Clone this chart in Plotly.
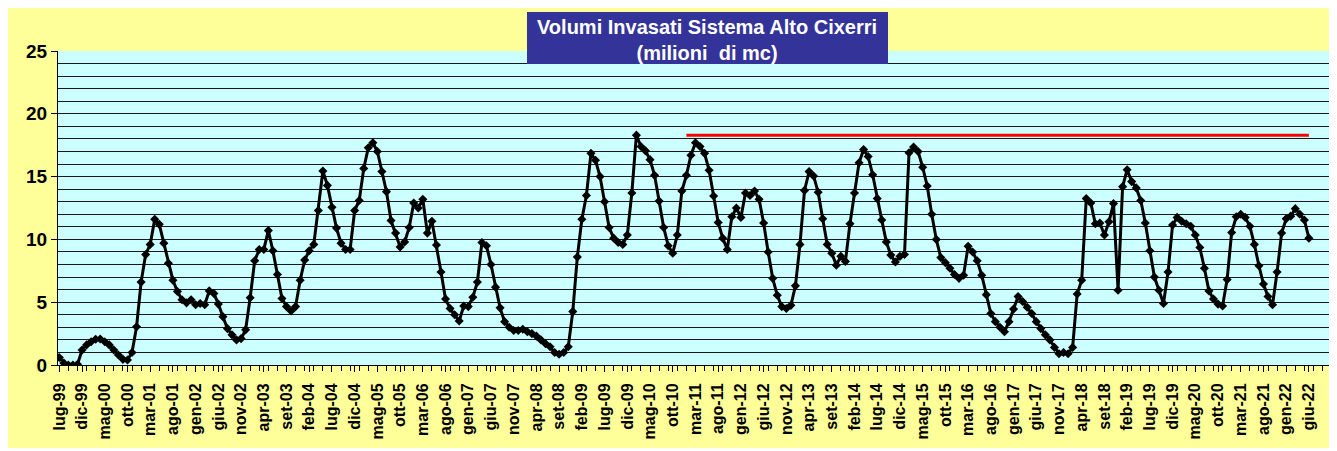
import plotly.graph_objects as go

# Monthly stored volume (million m3), from lug-99 (index 0) to giu-22 (index 275)
volumi = [
    0.6, 0.15, 0.0, 0.0, 0.05, 1.2, 1.6, 1.85, 2.05, 2.07,
    1.85, 1.6, 1.2, 0.8, 0.45, 0.4, 1.0, 3.05, 6.6, 8.8,
    9.6, 11.6, 11.2, 9.7, 8.1, 6.75, 5.85, 5.2, 4.95, 5.2,
    4.8, 4.9, 4.8, 5.9, 5.7, 4.85, 3.85, 2.9, 2.4, 2.0,
    2.1, 2.8, 5.35, 8.3, 9.2, 9.2, 10.7, 9.1, 7.2, 5.3,
    4.65, 4.3, 4.65, 6.75, 8.35, 9.1, 9.6, 12.3, 15.45, 14.3,
    12.55, 10.9, 9.7, 9.2, 9.2, 12.3, 13.1, 15.65, 17.3, 17.7,
    17.0, 15.4, 13.8, 11.5, 10.5, 9.4, 9.8, 10.95, 12.9, 12.5,
    13.2, 10.5, 11.45, 9.55, 7.4, 5.25, 4.5, 4.0, 3.5, 4.7,
    4.65, 5.4, 6.6, 9.75, 9.5, 8.0, 6.2, 4.55, 3.45, 3.0,
    2.75, 2.75, 2.85, 2.65, 2.5, 2.3, 2.0, 1.7, 1.45, 1.0,
    0.85, 1.0, 1.45, 4.25, 8.6, 11.6, 13.5, 16.85, 16.3, 15.0,
    13.0, 10.95, 10.1, 9.75, 9.6, 10.35, 13.7, 18.3, 17.4, 17.05,
    16.35, 15.1, 13.05, 10.95, 9.5, 8.9, 10.35, 13.85, 15.1, 16.7,
    17.7, 17.4, 16.85, 15.5, 13.45, 11.35, 10.1, 9.2, 11.8, 12.5,
    11.75, 13.7, 13.5, 13.85, 13.2, 11.3, 9.0, 6.9, 5.55, 4.65,
    4.5, 4.75, 6.3, 9.6, 13.9, 15.4, 15.05, 13.75, 11.65, 9.6,
    8.9, 7.95, 8.65, 8.25, 11.25, 13.7, 16.1, 17.15, 16.6, 15.15,
    13.25, 11.55, 9.8, 8.75, 8.2, 8.65, 8.8, 16.9, 17.35, 17.0,
    15.75, 14.25, 12.0, 10.0, 8.55, 8.15, 7.7, 7.2, 6.9, 7.15,
    9.45, 9.0, 8.3, 7.15, 5.6, 4.1, 3.45, 3.0, 2.65, 3.45,
    4.45, 5.45, 5.05, 4.6, 4.1, 3.45, 2.9, 2.4, 2.0, 1.4,
    0.9, 1.0, 0.9, 1.4, 5.65, 6.75, 13.25, 12.9, 11.25, 11.3,
    10.35, 11.4, 12.85, 5.95, 14.2, 15.55, 14.6, 14.1, 13.1, 11.3,
    9.1, 7.0, 5.95, 4.9, 7.4, 11.15, 11.75, 11.45, 11.25, 11.05,
    10.35, 9.35, 7.7, 5.9, 5.25, 4.85, 4.7, 6.8, 10.55, 11.8,
    12.0, 11.75, 11.05, 9.6, 7.9, 6.45, 5.45, 4.8, 7.4, 10.5,
    11.65, 11.85, 12.45, 12.0, 11.55, 10.1,
]

# Reference level (red line), from gen-11 (index 138) to giu-22 (index 275)
soglia_valore = 18.3
soglia_inizio = 138
soglia_fine = 275

# X tick labels, one every 5 months starting at lug-99
tick_labels = [
    "lug-99", "dic-99", "mag-00", "ott-00", "mar-01", "ago-01", "gen-02", "giu-02",
    "nov-02", "apr-03", "set-03", "feb-04", "lug-04", "dic-04", "mag-05", "ott-05",
    "mar-06", "ago-06", "gen-07", "giu-07", "nov-07", "apr-08", "set-08", "feb-09",
    "lug-09", "dic-09", "mag-10", "ott-10", "mar-11", "ago-11", "gen-12", "giu-12",
    "nov-12", "apr-13", "set-13", "feb-14", "lug-14", "dic-14", "mag-15", "ott-15",
    "mar-16", "ago-16", "gen-17", "giu-17", "nov-17", "apr-18", "set-18", "feb-19",
    "lug-19", "dic-19", "mag-20", "ott-20", "mar-21", "ago-21", "gen-22", "giu-22",
]
tick_step = 5

y_ticks = [0, 5, 10, 15, 20, 25]

title_lines = ["Volumi Invasati Sistema Alto Cixerri", "(milioni  di mc)"]

x_mesi = list(range(len(volumi)))
x_soglia = list(range(soglia_inizio, soglia_fine + 1))
y_soglia = [soglia_valore] * len(x_soglia)
tick_vals = [i * tick_step for i in range(len(tick_labels))]

FONT = "Liberation Sans, Arial, sans-serif"

fig = go.Figure()
fig.add_trace(go.Scatter(
    x=x_soglia, y=y_soglia, mode="lines",
    line=dict(color="#FF0000", width=3), showlegend=False, hoverinfo="skip",
))
fig.add_trace(go.Scatter(
    x=x_mesi, y=volumi, mode="lines+markers",
    line=dict(color="#000000", width=3),
    marker=dict(symbol="diamond", size=7, color="#000000"),
    showlegend=False,
))

# the page body adds an 8px offset; figure coords = page coords - 8
OFF = 8
W, H = 1337 - OFF, 451 - OFF
L, T = 58 - OFF, 51 - OFF
R = 0
B = H - (365 - OFF)
pw = W - L - R
ph = H - T - B


def px_x(p):
    return (p - OFF - L) / pw


def px_y(p):
    return (H - B - (p - OFF)) / ph


shapes = [
    # plot area background
    dict(type="rect", xref="paper", yref="paper", layer="below",
         x0=0, x1=1, y0=0, y1=1,
         fillcolor="#CCFFFF", line=dict(width=0)),
    # thin white strip at the bottom
    dict(type="rect", xref="paper", yref="paper", layer="below",
         x0=px_x(0), x1=px_x(1340), y0=px_y(452), y1=px_y(448),
         fillcolor="#FFFFFF", line=dict(width=0)),
    # title box
    dict(type="rect", xref="paper", yref="paper", layer="above",
         x0=px_x(527), x1=px_x(888), y0=px_y(64), y1=px_y(12),
         fillcolor="#333399", line=dict(width=0)),
]

fig.update_layout(
    width=W, height=H,
    margin=dict(l=L, r=R, t=T, b=B, pad=0),
    paper_bgcolor="#FFFF99",
    plot_bgcolor="rgba(0,0,0,0)",
    shapes=shapes,
    annotations=[dict(
        xref="paper", yref="paper",
        x=px_x(707.5), y=px_y(39.5), xanchor="center", yanchor="middle",
        text="<b>" + "<br>".join(title_lines) + "</b>",
        showarrow=False,
        font=dict(family=FONT, size=20, color="#FFFFFF"),
        align="center",
    )],
    font=dict(family=FONT, color="#000000"),
    xaxis=dict(
        range=[-0.29, (1337 - 59.3) / 4.544],
        tickmode="array", tickvals=tick_vals,
        ticktext=["<b>%s</b>" % t for t in tick_labels],
        tickangle=-90,
        tickfont=dict(family=FONT, size=16, color="#000000"),
        ticks="outside", ticklen=6, tickcolor="#000000",
        ticklabelstandoff=5,
        minor=dict(dtick=2, tick0=0, ticks="outside", ticklen=5, tickcolor="#000000"),
        showgrid=False, zeroline=False,
        showline=True, linecolor="#000000", linewidth=1,
        automargin=False,
    ),
    yaxis=dict(
        range=[0, 25],
        tickmode="array", tickvals=y_ticks,
        ticktext=["<b>%d</b>" % v for v in y_ticks],
        tickfont=dict(family=FONT, size=19, color="#000000"),
        ticks="outside", ticklen=6, tickcolor="#000000",
        showgrid=True, gridcolor="#1a1a1a", gridwidth=1,
        minor=dict(dtick=1, tick0=0, showgrid=True, gridcolor="#1a1a1a", gridwidth=1, ticks=""),
        zeroline=False,
        showline=True, linecolor="#000000", linewidth=1,
        automargin=False,
    ),
)

fig.write_html("out.html")
